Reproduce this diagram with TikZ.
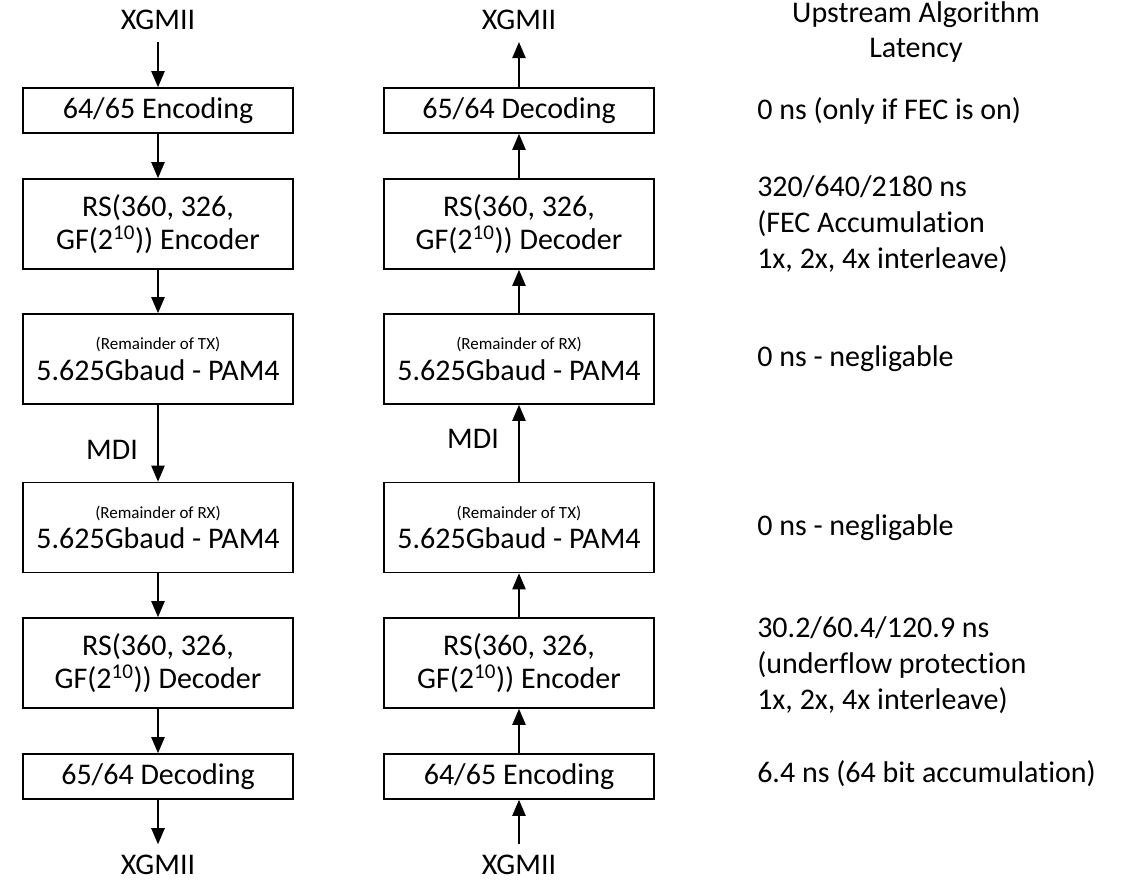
\documentclass[tikz,border=0pt]{standalone}
\usepackage{fontspec}
\setmainfont{Carlito}[Ligatures=NoCommon]
\usetikzlibrary{arrows.meta}

\tikzset{
  blk/.style={draw, line width=1.3pt, minimum width=202.5pt, inner sep=0pt,
              align=center, font=\fontsize{22.5}{25}\selectfont},
  blkthin/.style={blk, minimum height=33.75pt},
  blkthick/.style={blk, minimum height=67.5pt},
  lbl/.style={inner sep=0pt, font=\fontsize{22.5}{26}\selectfont},
  note/.style={anchor=west, inner sep=0pt, align=left,
               font=\fontsize{22.5}{27}\selectfont},
  flow/.style={line width=1.1pt, -{Triangle[length=12pt,width=10pt]}},
}
\newcommand{\remtext}[1]{{\fontsize{12.75}{15}\selectfont (Remainder of #1)}\\[-2pt]5.625Gbaud - PAM4}
\newcommand{\gfexp}{GF(2\textsuperscript{10}))}

\begin{document}
\begin{tikzpicture}[x=0.75pt,y=-0.75pt]
\useasboundingbox (0,0) rectangle (1122,881);

% transmit chain (left), top to bottom
\node[lbl] (xtl) at (158,20) {XGMII};
\node[blkthin]  (l1) at (158,110.5) {64/65 Encoding};
\node[blkthick] (l2) at (158,224) {RS(360, 326,\\\gfexp{} Encoder};
\node[blkthick] (l3) at (158,359) {\remtext{TX}};
\node[blkthick] (l4) at (158,527.5) {\remtext{RX}};
\node[blkthick] (l5) at (158,663) {RS(360, 326,\\\gfexp{} Decoder};
\node[blkthin]  (l6) at (158,776.5) {65/64 Decoding};
\node[lbl] (xbl) at (158,865) {XGMII};
\node[lbl] (mdil) at (112,450) {MDI};

% receive chain (right), bottom to top
\node[lbl] (xtr) at (519,20) {XGMII};
\node[blkthin]  (r1) at (519,110.5) {65/64 Decoding};
\node[blkthick] (r2) at (519,224) {RS(360, 326,\\\gfexp{} Decoder};
\node[blkthick] (r3) at (519,359) {\remtext{RX}};
\node[blkthick] (r4) at (519,527.5) {\remtext{TX}};
\node[blkthick] (r5) at (519,663) {RS(360, 326,\\\gfexp{} Encoder};
\node[blkthin]  (r6) at (519,776.5) {64/65 Encoding};
\node[lbl] (xbr) at (519,865) {XGMII};
\node[lbl] (mdir) at (473,439) {MDI};

% connectors
\draw[flow, shorten <=9pt] (xtl.south) -- (l1.north);
\draw[flow] (l1) -- (l2);
\draw[flow] (l2) -- (l3);
\draw[flow] (l3) -- (l4);
\draw[flow] (l4) -- (l5);
\draw[flow] (l5) -- (l6);
\draw[flow, shorten >=8pt] (l6.south) -- (xbl.north);

\draw[flow, shorten <=8pt] (xbr.north) -- (r6.south);
\draw[flow] (r6) -- (r5);
\draw[flow] (r5) -- (r4);
\draw[flow] (r4) -- (r3);
\draw[flow] (r3) -- (r2);
\draw[flow] (r2) -- (r1);
\draw[flow, shorten >=9pt] (r1.north) -- (xtr.south);

% latency column
\node[lbl, align=center, font=\fontsize{22.5}{26.25}\selectfont] (hdr) at (916,32.5) {Upstream Algorithm\\Latency};
\node[note] (n1) at (757,110.5) {0 ns (only if FEC is on)};
\node[note] (n2) at (757,224) {320/640/2180 ns\\(FEC Accumulation\\1x, 2x, 4x interleave)};
\node[note] (n3) at (757,359) {0 ns - negligable};
\node[note] (n4) at (757,527.5) {0 ns - negligable};
\node[note] (n5) at (757,665) {30.2/60.4/120.9 ns\\(underflow protection\\1x, 2x, 4x interleave)};
\node[note] (n6) at (757,774) {6.4 ns (64 bit accumulation)};
\end{tikzpicture}
\end{document}
